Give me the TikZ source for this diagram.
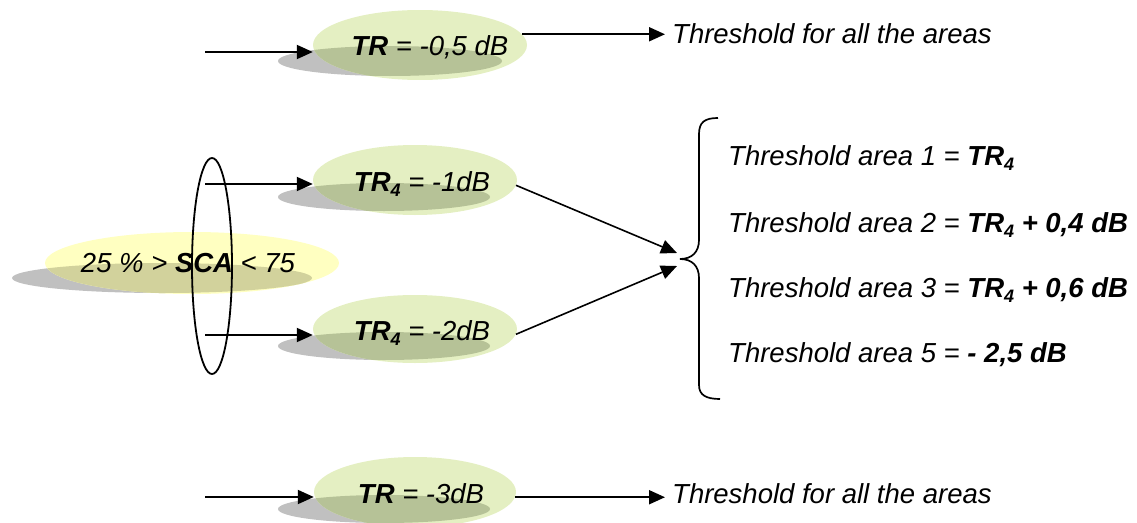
\documentclass[tikz,border=0pt]{standalone}
\usepackage{fontspec}
\setmainfont{Liberation Sans}
\usetikzlibrary{arrows.meta,shapes.geometric}

\definecolor{leafLight}{HTML}{E4EFC2}
\definecolor{leafDark}{HTML}{B6C297}
\definecolor{lemonLight}{HTML}{FFFFC1}
\definecolor{lemonDark}{HTML}{D2D29C}
\definecolor{shadowGrey}{HTML}{C0C0C0}

% #1 name, #2 centre, #3/#4 radii, #5 shadow centre, #6/#7 shadow radii,
% #8 fill colour, #9 colour where the fill lies over the shadow
\newcommand{\softoval}[9]{%
  \fill[shadowGrey] #5 ellipse [x radius=#6pt, y radius=#7pt];
  \fill[#8] #2 ellipse [x radius=#3pt, y radius=#4pt];
  \begin{scope}
    \clip #2 ellipse [x radius=#3pt, y radius=#4pt];
    \fill[#9] #5 ellipse [x radius=#6pt, y radius=#7pt];
  \end{scope}
  \node[ellipse, inner sep=0pt, minimum width=2*#3pt, minimum height=2*#4pt] (#1) at #2 {};
}
\newcommand{\subfour}{\raisebox{-5pt}{\fontsize{18pt}{18pt}\selectfont 4}}

\tikzset{
  lbl/.style={inner sep=0pt, anchor=base, font=\fontsize{27.5pt}{33pt}\selectfont\itshape},
  lblw/.style={lbl, anchor=base west},
  arrowline/.style={line width=1.9pt, -{Triangle[length=16pt,width=14pt]}},
}

\begin{document}
\begin{tikzpicture}[x=1pt,y=-1pt]
\useasboundingbox (0,0) rectangle (1137,522);
\clip (0,0) rectangle (1137,522);

% threshold ovals
\softoval{ovA}{(420,45)}{107}{35}{(390,61)}{112}{15}{leafLight}{leafDark}
\softoval{ovB}{(415,180)}{102}{35}{(384,197)}{106}{14}{leafLight}{leafDark}
\softoval{ovC}{(415,329)}{102}{34}{(384,346)}{106}{14}{leafLight}{leafDark}
\softoval{ovD}{(415,492)}{101}{35}{(384,509)}{106}{14}{leafLight}{leafDark}

% condition oval
\softoval{ovS}{(192,263)}{147}{31}{(162,278)}{150}{15}{lemonLight}{lemonDark}

% grouping ring around the two branches
\node[draw, ellipse, line width=1.8pt, inner sep=0pt,
      minimum width=40pt, minimum height=216pt] (ring) at (212,266) {};

% labels inside the ovals
\node[lbl] (tA) at (430,55) {{\bfseries TR} = -0,5 dB};
\node[lbl] (tB) at (422,191) {{\bfseries TR\subfour} = -1dB};
\node[lbl] (tC) at (422,340) {{\bfseries TR\subfour} = -2dB};
\node[lbl] (tD) at (421,503) {{\bfseries TR} = -3dB};
\node[lbl] (tS) at (188,272) {25 \% > {\bfseries SCA} < 75};

% right-hand texts
\node[lblw] (thrA) at (672,43) {Threshold for all the areas};
\node[lblw] (thrD) at (672,503) {Threshold for all the areas};
\node[lblw] (ar1) at (728,165) {Threshold area 1 = {\bfseries TR\subfour}};
\node[lblw] (ar2) at (728,232) {Threshold area 2 = {\bfseries TR\subfour{} + 0,4 dB}};
\node[lblw] (ar3) at (728,297) {Threshold area 3 = {\bfseries TR\subfour{} + 0,6 dB}};
\node[lblw] (ar5) at (728,362) {Threshold area 5 = {\bfseries - 2,5 dB}};

% brace
\coordinate (braceTip) at (680,259);
\draw[line width=1.7pt] (718,118) .. controls (705,118) and (699,122) .. (699,134)
  -- (699,240) .. controls (699,252) and (692,259) .. (braceTip)
  .. controls (692,259) and (699,266) .. (699,278)
  -- (699,385) .. controls (699,395) and (706,399) .. (720,399);

% incoming arrows
\coordinate (inA) at (205,52);
\coordinate (inB) at (205,184);
\coordinate (inC) at (205,335);
\coordinate (inD) at (205,497);
\draw[arrowline] (inA) -- (inA -| ovA.west);
\draw[arrowline] (inB) -- (inB -| ovB.west);
\draw[arrowline] (inC) -- (inC -| ovC.west);
\draw[arrowline] (inD) -- (inD -| ovD.west);

% outgoing arrows
\coordinate (toBraceU) at (677,253);
\coordinate (toBraceL) at (677,266);
\draw[arrowline, shorten >=7pt] (ovA.6) -- (ovA.6 -| thrA.west);
\draw[arrowline, shorten >=7pt] (ovD.-3) -- (ovD.-3 -| thrD.west);
\draw[arrowline, line width=1.6pt] (ovB.-3) -- (toBraceU);
\draw[arrowline, line width=1.6pt] (ovC.-3) -- (toBraceL);
\end{tikzpicture}
\end{document}
